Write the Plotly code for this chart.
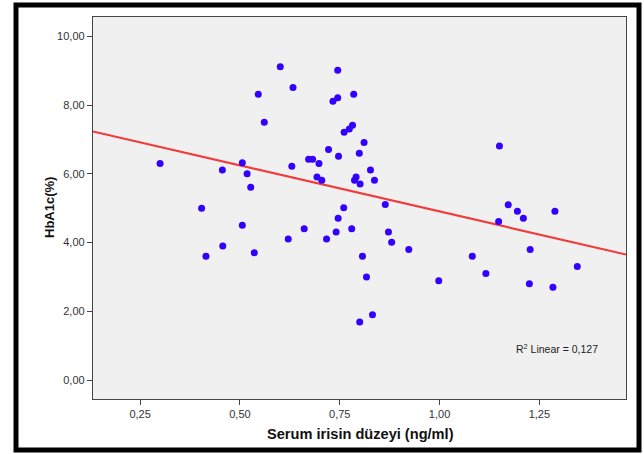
import plotly.graph_objects as go

# Serum irisin (ng/ml) and HbA1c (%)
irisin = [0.300, 0.404, 0.415, 0.456, 0.457, 0.506, 0.506, 0.518, 0.527, 0.536,
          0.546, 0.561, 0.601, 0.633, 0.630, 0.621, 0.661, 0.672, 0.682, 0.698,
          0.693, 0.705, 0.717, 0.722, 0.733, 0.745, 0.745, 0.747, 0.741, 0.746,
          0.760, 0.761, 0.774, 0.782, 0.785, 0.780, 0.791, 0.787, 0.801, 0.799,
          0.811, 0.800, 0.807, 0.817, 0.827, 0.832, 0.837, 0.864, 0.872, 0.880,
          0.923, 0.998, 1.082, 1.116, 1.150, 1.148, 1.172, 1.195, 1.210, 1.227,
          1.225, 1.284, 1.289, 1.345]
hba1c = [6.30, 5.00, 3.60, 6.11, 3.90, 6.32, 4.50, 6.00, 5.61, 3.70,
         8.31, 7.50, 9.11, 8.51, 6.22, 4.10, 4.40, 6.42, 6.42, 6.30,
         5.91, 5.81, 4.10, 6.71, 8.11, 8.21, 9.01, 6.51, 4.31, 4.71,
         5.01, 7.21, 7.30, 7.41, 8.31, 4.40, 5.91, 5.81, 5.70, 6.60,
         6.91, 1.69, 3.60, 3.00, 6.11, 1.90, 5.81, 5.11, 4.31, 4.01,
         3.80, 2.89, 3.60, 3.10, 6.81, 4.61, 5.10, 4.91, 4.71, 3.80,
         2.80, 2.70, 4.91, 3.30]

# Linear fit (as drawn in the reference)
fit_intercept = 7.584
fit_slope = -2.68
r2_text = "R<sup>2</sup> Linear = 0,127"
x_title = "<b>Serum irisin düzeyi (ng/ml)</b>"
y_title = "<b>HbA1c(%)</b>"

x_range = [0.132, 1.467]
y_range = [-0.55, 10.56]
x_ticks = [0.25, 0.50, 0.75, 1.00, 1.25]
y_ticks = [0, 2, 4, 6, 8, 10]

fit_x = x_range
fit_y = [fit_intercept + fit_slope * v for v in fit_x]

FONT = "Liberation Sans, Arial, sans-serif"

fig = go.Figure()
fig.add_trace(go.Scatter(
    x=fit_x, y=fit_y, mode="lines",
    line=dict(color="#F23B3B", width=2.2),
    hoverinfo="skip", showlegend=False))
fig.add_trace(go.Scatter(
    x=irisin, y=hba1c, mode="markers",
    marker=dict(color="#3300FF", size=7, line=dict(width=0)),
    showlegend=False))

W, H = 644, 454
L, R, T, B = 93, 18, 17, 55
pw, ph = W - L - R, H - T - B

def px(xp):
    return (xp - L) / pw

def py(yp):
    return (H - B - yp) / ph

fig.update_layout(
    width=W, height=H,
    margin=dict(l=L, r=R, t=T, b=B, pad=0),
    paper_bgcolor="white",
    plot_bgcolor="#F0F0F0",
    separators=",.",
    font=dict(family=FONT, size=11, color="#222"),
    xaxis=dict(
        range=x_range, tickvals=x_ticks, tickformat=".2f",
        showgrid=False, zeroline=False,
        showline=True, linecolor="#444", linewidth=1.3, mirror=True,
        ticks="outside", ticklen=5, tickcolor="#444", tickwidth=1.3,
        tickfont=dict(family=FONT, size=11, color="#333"),
    ),
    yaxis=dict(
        range=y_range, tickvals=y_ticks, tickformat=".2f",
        showgrid=False, zeroline=False,
        showline=True, linecolor="#444", linewidth=1.3, mirror=True,
        ticks="outside", ticklen=5, tickcolor="#444", tickwidth=1.3,
        tickfont=dict(family=FONT, size=11, color="#333"),
    ),
    annotations=[
        dict(text=r2_text, xref="paper", yref="paper",
             x=px(557), y=py(348), xanchor="center", yanchor="middle",
             showarrow=False, font=dict(family=FONT, size=10.5, color="#222")),
        dict(text=x_title, xref="paper", yref="paper",
             x=px(360), y=py(434), xanchor="center", yanchor="middle",
             showarrow=False, font=dict(family=FONT, size=14.6, color="#111")),
        dict(text=y_title, xref="paper", yref="paper", textangle=-90,
             x=px(49), y=py(208), xanchor="center", yanchor="middle",
             showarrow=False, font=dict(family=FONT, size=13, color="#111")),
    ],
    shapes=[dict(
        type="rect", xref="paper", yref="paper",
        x0=px(16), x1=px(639), y0=py(450), y1=py(5),
        line=dict(color="black", width=5), fillcolor="rgba(0,0,0,0)",
        layer="below")],
)

fig.write_html(
    "out.html",
    config={"displayModeBar": False},
    post_script="document.body.style.margin='0px';document.body.style.padding='0px';",
)
